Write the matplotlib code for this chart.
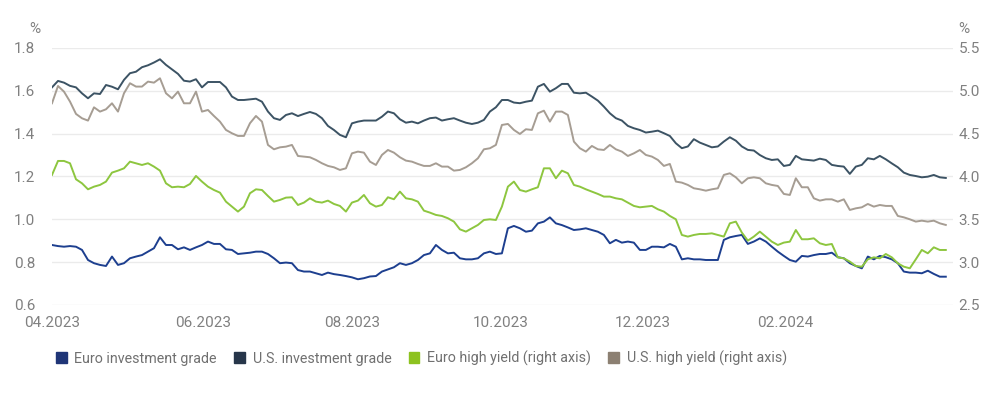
import numpy as np
import matplotlib
matplotlib.use("Agg")
import matplotlib.pyplot as plt
from matplotlib.patches import Patch

plt.rcParams['font.family'] = ['Roboto', 'DejaVu Sans']

# spreads in %, one reading every ~2.5 days from 04.2023 to 04.2024
euro_ig = [0.880, 0.875, 0.872, 0.875, 0.872, 0.857, 0.810, 0.795, 0.787, 0.782, 0.826, 0.787, 0.795, 0.818, 0.826,
           0.833, 0.849, 0.865, 0.916, 0.880, 0.880, 0.860, 0.869, 0.857, 0.869, 0.880, 0.896, 0.885, 0.885, 0.860,
           0.857, 0.838, 0.841, 0.844, 0.849, 0.849, 0.838, 0.818, 0.795, 0.798, 0.795, 0.763, 0.756, 0.756, 0.748,
           0.740, 0.751, 0.744, 0.740, 0.735, 0.729, 0.720, 0.725, 0.733, 0.735, 0.756, 0.766, 0.776, 0.795, 0.787,
           0.795, 0.810, 0.833, 0.841, 0.880, 0.857, 0.841, 0.844, 0.818, 0.813, 0.813, 0.818, 0.841, 0.849, 0.838,
           0.841, 0.958, 0.969, 0.958, 0.942, 0.947, 0.981, 0.989, 1.009, 0.981, 0.973, 0.962, 0.950, 0.953, 0.958,
           0.950, 0.942, 0.927, 0.888, 0.904, 0.891, 0.896, 0.891, 0.857, 0.857, 0.872, 0.872, 0.869, 0.885, 0.872,
           0.813, 0.818, 0.813, 0.813, 0.810, 0.810, 0.810, 0.904, 0.916, 0.922, 0.927, 0.885, 0.896, 0.911,
           0.896, 0.872, 0.849, 0.829, 0.810, 0.802, 0.829, 0.826, 0.833, 0.838, 0.838, 0.844, 0.823, 0.818, 0.795,
           0.782, 0.771, 0.826, 0.813, 0.829, 0.823, 0.813, 0.795, 0.756, 0.751, 0.751, 0.748, 0.760, 0.745, 0.732, 0.732]

us_ig = [1.616, 1.646, 1.638, 1.623, 1.616, 1.588, 1.565, 1.588, 1.585, 1.627, 1.619, 1.607, 1.651, 1.682, 1.689,
         1.710, 1.719, 1.732, 1.747, 1.721, 1.700, 1.679, 1.647, 1.643, 1.654, 1.616, 1.641, 1.641, 1.641, 1.616,
         1.573, 1.557, 1.557, 1.560, 1.563, 1.549, 1.503, 1.472, 1.464, 1.487, 1.495, 1.482, 1.492, 1.501, 1.492,
         1.472, 1.436, 1.417, 1.394, 1.383, 1.448, 1.456, 1.461, 1.461, 1.461, 1.479, 1.503, 1.495, 1.467, 1.451,
         1.456, 1.448, 1.461, 1.472, 1.475, 1.461, 1.467, 1.472, 1.461, 1.451, 1.445, 1.451, 1.464, 1.503, 1.523,
         1.557, 1.557, 1.545, 1.542, 1.549, 1.554, 1.619, 1.632, 1.596, 1.612, 1.632, 1.632, 1.591, 1.588, 1.591,
         1.573, 1.554, 1.526, 1.495, 1.472, 1.461, 1.436, 1.425, 1.417, 1.405, 1.409, 1.414, 1.402, 1.389, 1.355,
         1.332, 1.340, 1.374, 1.358, 1.347, 1.336, 1.340, 1.363, 1.383, 1.367, 1.340, 1.324, 1.321, 1.300,
         1.285, 1.277, 1.280, 1.249, 1.254, 1.296, 1.280, 1.277, 1.274, 1.283, 1.277, 1.254, 1.249, 1.246, 1.212,
         1.246, 1.254, 1.285, 1.280, 1.296, 1.280, 1.261, 1.243, 1.218, 1.207, 1.202, 1.196, 1.199, 1.207, 1.196, 1.193]

euro_hy = [4.018, 4.181, 4.181, 4.154, 3.967, 3.920, 3.850, 3.881, 3.901, 3.940, 4.045, 4.068, 4.095, 4.173, 4.154,
           4.134, 4.154, 4.115, 4.068, 3.920, 3.874, 3.881, 3.874, 3.912, 4.006, 3.940, 3.881, 3.842, 3.811, 3.706,
           3.648, 3.590, 3.648, 3.804, 3.850, 3.842, 3.772, 3.706, 3.726, 3.753, 3.757, 3.667, 3.695, 3.745, 3.706,
           3.695, 3.718, 3.679, 3.656, 3.590, 3.695, 3.718, 3.784, 3.687, 3.648, 3.667, 3.757, 3.734, 3.823, 3.745,
           3.733, 3.706, 3.601, 3.578, 3.551, 3.539, 3.512, 3.473, 3.383, 3.356, 3.395, 3.434, 3.492, 3.500, 3.492,
           3.648, 3.881, 3.940, 3.842, 3.823, 3.850, 3.874, 4.095, 4.095, 3.979, 4.068, 4.037, 3.901, 3.881, 3.850,
           3.823, 3.796, 3.765, 3.765, 3.745, 3.733, 3.694, 3.656, 3.640, 3.648, 3.656, 3.617, 3.590, 3.539, 3.500,
           3.317, 3.298, 3.317, 3.329, 3.329, 3.336, 3.317, 3.298, 3.453, 3.473, 3.345, 3.251, 3.298, 3.356,
           3.298, 3.239, 3.200, 3.228, 3.239, 3.375, 3.267, 3.267, 3.278, 3.220, 3.200, 3.212, 3.056, 3.044, 3.006,
           2.955, 2.947, 3.033, 3.056, 3.044, 3.095, 3.056, 2.986, 2.947, 2.928, 3.033, 3.142, 3.103, 3.173, 3.142, 3.142]

us_hy = [4.854, 5.056, 4.990, 4.874, 4.730, 4.679, 4.652, 4.807, 4.757, 4.784, 4.854, 4.757, 4.971, 5.088, 5.049,
         5.049, 5.107, 5.095, 5.146, 4.971, 4.912, 4.990, 4.854, 4.854, 4.990, 4.757, 4.776, 4.706, 4.640, 4.543,
         4.504, 4.473, 4.473, 4.621, 4.706, 4.640, 4.368, 4.317, 4.340, 4.348, 4.368, 4.239, 4.232, 4.224, 4.193,
         4.154, 4.123, 4.107, 4.076, 4.095, 4.270, 4.290, 4.278, 4.173, 4.134, 4.251, 4.309, 4.278, 4.224, 4.185,
         4.173, 4.146, 4.123, 4.123, 4.154, 4.115, 4.115, 4.068, 4.076, 4.107, 4.154, 4.212, 4.317, 4.329, 4.368,
         4.601, 4.613, 4.543, 4.496, 4.551, 4.543, 4.737, 4.768, 4.640, 4.757, 4.757, 4.718, 4.407, 4.329, 4.290,
         4.356, 4.317, 4.309, 4.368, 4.317, 4.290, 4.239, 4.270, 4.309, 4.251, 4.232, 4.193, 4.123, 4.146, 3.940,
         3.928, 3.901, 3.862, 3.850, 3.834, 3.850, 3.862, 4.018, 4.037, 3.990, 3.920, 3.979, 3.990, 3.979,
         3.920, 3.901, 3.889, 3.796, 3.784, 3.979, 3.874, 3.874, 3.745, 3.718, 3.733, 3.733, 3.706, 3.733, 3.609,
         3.628, 3.640, 3.679, 3.648, 3.667, 3.656, 3.656, 3.539, 3.523, 3.500, 3.473, 3.484, 3.473, 3.484, 3.453, 3.434]

month_labels = ["04.2023", "06.2023", "08.2023", "10.2023", "12.2023", "02.2024"]
month_obs = [0, 25.2, 50, 74.8, 98.5, 122.2]   # observation index where each month starts

c_euro_ig = "#1d3f8f"
c_us_ig = "#3c5364"
c_euro_hy = "#8dc63f"
c_us_hy = "#a69d93"
grey = "#808080"

t = np.arange(len(euro_ig))

fig = plt.figure(figsize=(10, 3.93), dpi=100)
ax = fig.add_axes([0.052, 0.224, 0.901, 0.654])
ax2 = ax.twinx()

ax.plot(t, us_ig, color=c_us_ig, lw=1.4)
ax.plot(t, euro_ig, color=c_euro_ig, lw=1.4)
ax2.plot(t, us_hy, color=c_us_hy, lw=1.4)
ax2.plot(t, euro_hy, color=c_euro_hy, lw=1.4)

ax.set_xlim(0, 150.2)
ax.set_ylim(0.6, 1.8)
ax2.set_ylim(2.5, 5.5)
ax.set_yticks(np.arange(0.6, 1.81, 0.2))
ax.set_yticklabels(["%.1f" % v for v in np.arange(0.6, 1.81, 0.2)])
ax2.set_yticks(np.arange(2.5, 5.51, 0.5))
ax2.set_yticklabels(["%.1f" % v for v in np.arange(2.5, 5.51, 0.5)])
ax.set_xticks(month_obs)
ax.set_xticklabels(month_labels)

ax.grid(axis='y', color="#ebebeb", lw=1)
ax.set_axisbelow(True)
for a in (ax, ax2):
    for s in a.spines.values():
        s.set_visible(False)
    a.tick_params(length=0, labelsize=11, colors=grey)
ax.tick_params(axis='y', pad=12)
ax2.tick_params(axis='y', pad=4)
ax.tick_params(axis='x', pad=8)

fig.text(0.040, 0.925, "%", ha='right', va='center', fontsize=11, color=grey)
fig.text(0.958, 0.925, "%", ha='left', va='center', fontsize=11, color=grey)

handles = [Patch(color="#1f3577"), Patch(color="#27364a"), Patch(color="#8dc21f"), Patch(color="#8c8072")]
names = ["Euro investment grade", "U.S. investment grade", "Euro high yield (right axis)", "U.S. high yield (right axis)"]
leg = fig.legend(handles, names, loc='center left', bbox_to_anchor=(0.043, 0.088), ncol=4, frameon=False,
                 handlelength=0.75, handleheight=0.75, handletextpad=0.55, columnspacing=1.2, fontsize=10.3)
for txt in leg.get_texts():
    txt.set_color("#707070")

fig.savefig("out.png", dpi=100)
